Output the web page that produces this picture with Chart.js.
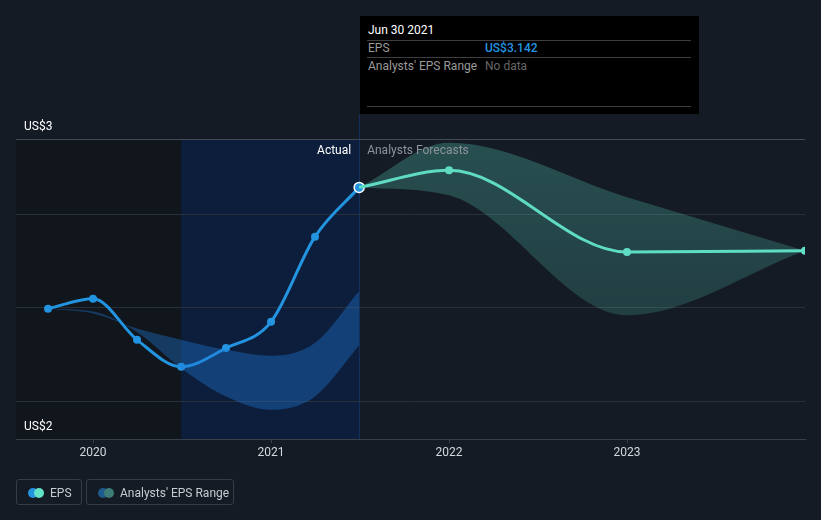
<!DOCTYPE html>
<html>
<head>
<meta charset="utf-8">
<script src="https://cdn.jsdelivr.net/npm/chart.js@4"></script>
<style>
  html, body { margin: 0; padding: 0; background: #151b25; }
  body { width: 821px; height: 520px; position: relative; overflow: hidden; font-family: Roboto, "Noto Sans", sans-serif; }
  #wrap { position: absolute; left: 0; top: 0; width: 821px; height: 520px; }
  .tip { position: absolute; left: 360px; top: 16px; width: 339px; height: 98px; background: #000; }
  .tip .title { position: absolute; left: 8px; top: 7px; color: #fff; font-size: 12px; }
  .tip .sep { position: absolute; left: 7px; width: 324px; height: 1px; background: #3f3f3f; }
  .tip .lab { position: absolute; left: 8px; color: #9a9a9a; font-size: 12px; }
  .tip .val { position: absolute; left: 125px; font-size: 12px; }
  .legend { position: absolute; top: 479px; height: 26px; border: 1px solid #363c46; border-radius: 3px; box-sizing: border-box; }
  .legend .dot { position: absolute; top: 8px; width: 10px; height: 10px; border-radius: 50%; }
  .legend span.txt { position: absolute; top: 6px; color: #c7cbd1; font-size: 12px; white-space: nowrap; }
</style>
</head>
<body>
<div id="wrap"><canvas id="chart" width="821" height="520"></canvas></div>

<div class="tip">
  <div class="title">Jun 30 2021</div>
  <div class="sep" style="top:24px"></div>
  <div class="lab" style="top:25px">EPS</div>
  <div class="val" style="top:25px;color:#2394e0;font-weight:500">US$3.142</div>
  <div class="sep" style="top:41px"></div>
  <div class="lab" style="top:43px">Analysts' EPS Range</div>
  <div class="val" style="top:43px;color:#666">No data</div>
  <div class="sep" style="top:90px"></div>
</div>

<div class="legend" style="left:16px;width:66px">
  <div class="dot" style="left:11px;background:#2394e0"></div>
  <div class="dot" style="left:17px;background:#62e3c8"></div>
  <span class="txt" style="left:33px">EPS</span>
</div>
<div class="legend" style="left:86px;width:148px">
  <div class="dot" style="left:11px;background:#1f5a8c"></div>
  <div class="dot" style="left:17px;background:#3d7c76"></div>
  <span class="txt" style="left:33px">Analysts' EPS Range</span>
</div>

<script>
// dates as decimal years
const actualX = [2019.747, 2020.0, 2020.247, 2020.495, 2020.747, 2021.0, 2021.247, 2021.495];
const actualEps = [2.495, 2.548, 2.329, 2.185, 2.285, 2.425, 2.879, 3.142];
const actualRangeHigh = [2.495, 2.47, 2.39, 2.33, 2.276, 2.244, 2.313, 2.59];
const actualRangeLow = [2.495, 2.48, 2.37, 2.178, 2.027, 1.956, 2.027, 2.30];

const forecastX = [2021.495, 2022.0, 2023.0, 2024.0];
const forecastEps = [3.142, 3.233, 2.797, 2.804];
const forecastHigh = [3.142, 3.38, 3.09, 2.804];
const forecastLow = [3.142, 3.10, 2.46, 2.804];

const yearTicks = [2020, 2021, 2022, 2023];
const gridValues = [2.0, 2.5, 3.0, 3.4];

const pts = (xs, ys) => xs.map((x, i) => ({ x, y: ys[i] }));

const shading = {
  id: "shading",
  beforeDraw(c) {
    const { ctx, chartArea: a, scales } = c;
    const xSplit = scales.x.getPixelForValue(2020.495);
    const xNow = scales.x.getPixelForValue(2021.495);
    ctx.save();
    ctx.fillStyle = "#11151c";
    ctx.fillRect(a.left, a.top, xSplit - a.left, a.bottom - a.top);
    ctx.fillStyle = "#0c1e3b";
    ctx.fillRect(xSplit, a.top, xNow - xSplit, a.bottom - a.top);
    ctx.fillStyle = "#14305a";
    ctx.fillRect(Math.round(xNow), 114, 1, a.bottom - 114);
    ctx.restore();
  },
  afterDraw(c) {
    const { ctx, chartArea: a, scales } = c;
    const xNow = scales.x.getPixelForValue(2021.495);
    ctx.save();
    ctx.font = "12px Roboto";
    ctx.textBaseline = "middle";
    ctx.fillStyle = "#ffffff";
    ctx.textAlign = "right";
    ctx.fillText("Actual", xNow - 8, 151);
    ctx.fillStyle = "#8e939b";
    ctx.textAlign = "left";
    ctx.fillText("Analysts Forecasts", xNow + 8, 151);
    ctx.fillStyle = "#ffffff";
    ctx.fillText("US$3", 24, 127);
    ctx.fillText("US$2", 24, 427);
    ctx.restore();
  },
};

new Chart(document.getElementById("chart"), {
  type: "line",
  data: {
    datasets: [
      {
        data: pts(actualX, actualRangeLow),
        borderWidth: 0,
        pointRadius: 0,
        fill: false,
        cubicInterpolationMode: "monotone",
      },
      {
        data: pts(actualX, actualRangeHigh),
        borderWidth: 0,
        pointRadius: 0,
        fill: "-1",
        backgroundColor: "rgba(32, 120, 215, 0.38)",
        cubicInterpolationMode: "monotone",
      },
      {
        data: pts(forecastX, forecastLow),
        borderWidth: 0,
        pointRadius: 0,
        fill: false,
        cubicInterpolationMode: "monotone",
      },
      {
        data: pts(forecastX, forecastHigh),
        borderWidth: 0,
        pointRadius: 0,
        fill: "-1",
        backgroundColor: (ctx) => {
          const a = ctx.chart.chartArea;
          if (!a) return "rgba(85, 200, 180, 0.25)";
          const g = ctx.chart.ctx.createLinearGradient(0, a.top, 0, a.bottom);
          g.addColorStop(0, "rgba(85, 200, 180, 0.3)");
          g.addColorStop(1, "rgba(85, 200, 180, 0.14)");
          return g;
        },
        cubicInterpolationMode: "monotone",
      },
      {
        data: pts(forecastX, forecastEps),
        borderColor: "#62e3c8",
        backgroundColor: "#62e3c8",
        borderWidth: 3,
        pointRadius: [0, 4, 4, 4],
        pointBorderWidth: 0,
        fill: false,
        cubicInterpolationMode: "monotone",
      },
      {
        data: pts(actualX, actualEps),
        borderColor: "#2394e0",
        backgroundColor: "#2394e0",
        borderWidth: 3,
        pointRadius: [4, 4, 4, 4, 4, 4, 4, 5],
        pointBorderWidth: [0, 0, 0, 0, 0, 0, 0, 1.5],
        pointBorderColor: "#ffffff",
        fill: false,
        cubicInterpolationMode: "monotone",
      },
    ],
  },
  options: {
    responsive: false,
    animation: false,
    layout: { padding: { left: 16, right: 16, top: 139, bottom: 0 } },
    plugins: { legend: { display: false }, tooltip: { enabled: false } },
    scales: {
      x: {
        type: "linear",
        min: 2019.567,
        max: 2024.0,
        afterBuildTicks: (s) => { s.ticks = yearTicks.map((v) => ({ value: v })); },
        afterFit: (s) => { s.height = 81; },
        ticks: {
          color: "#d4d8de",
          font: { family: "Liberation Sans Narrow, Roboto", size: 12 },
          padding: 3,
          callback: (v) => String(v),
        },
        grid: { display: true, drawOnChartArea: false, color: "#3a404a", tickLength: 4 },
        border: { color: "#3a404a" },
      },
      y: {
        min: 1.8,
        max: 3.4,
        afterBuildTicks: (s) => { s.ticks = gridValues.map((v) => ({ value: v })); },
        afterFit: (s) => { s.width = 0; },
        ticks: { display: false },
        grid: {
          drawTicks: false,
          color: (ctx) => (ctx.tick && ctx.tick.value === 3.4 ? "#434953" : "#2a3039"),
        },
        border: { display: false },
      },
    },
  },
  plugins: [shading],
});
</script>
</body>
</html>
